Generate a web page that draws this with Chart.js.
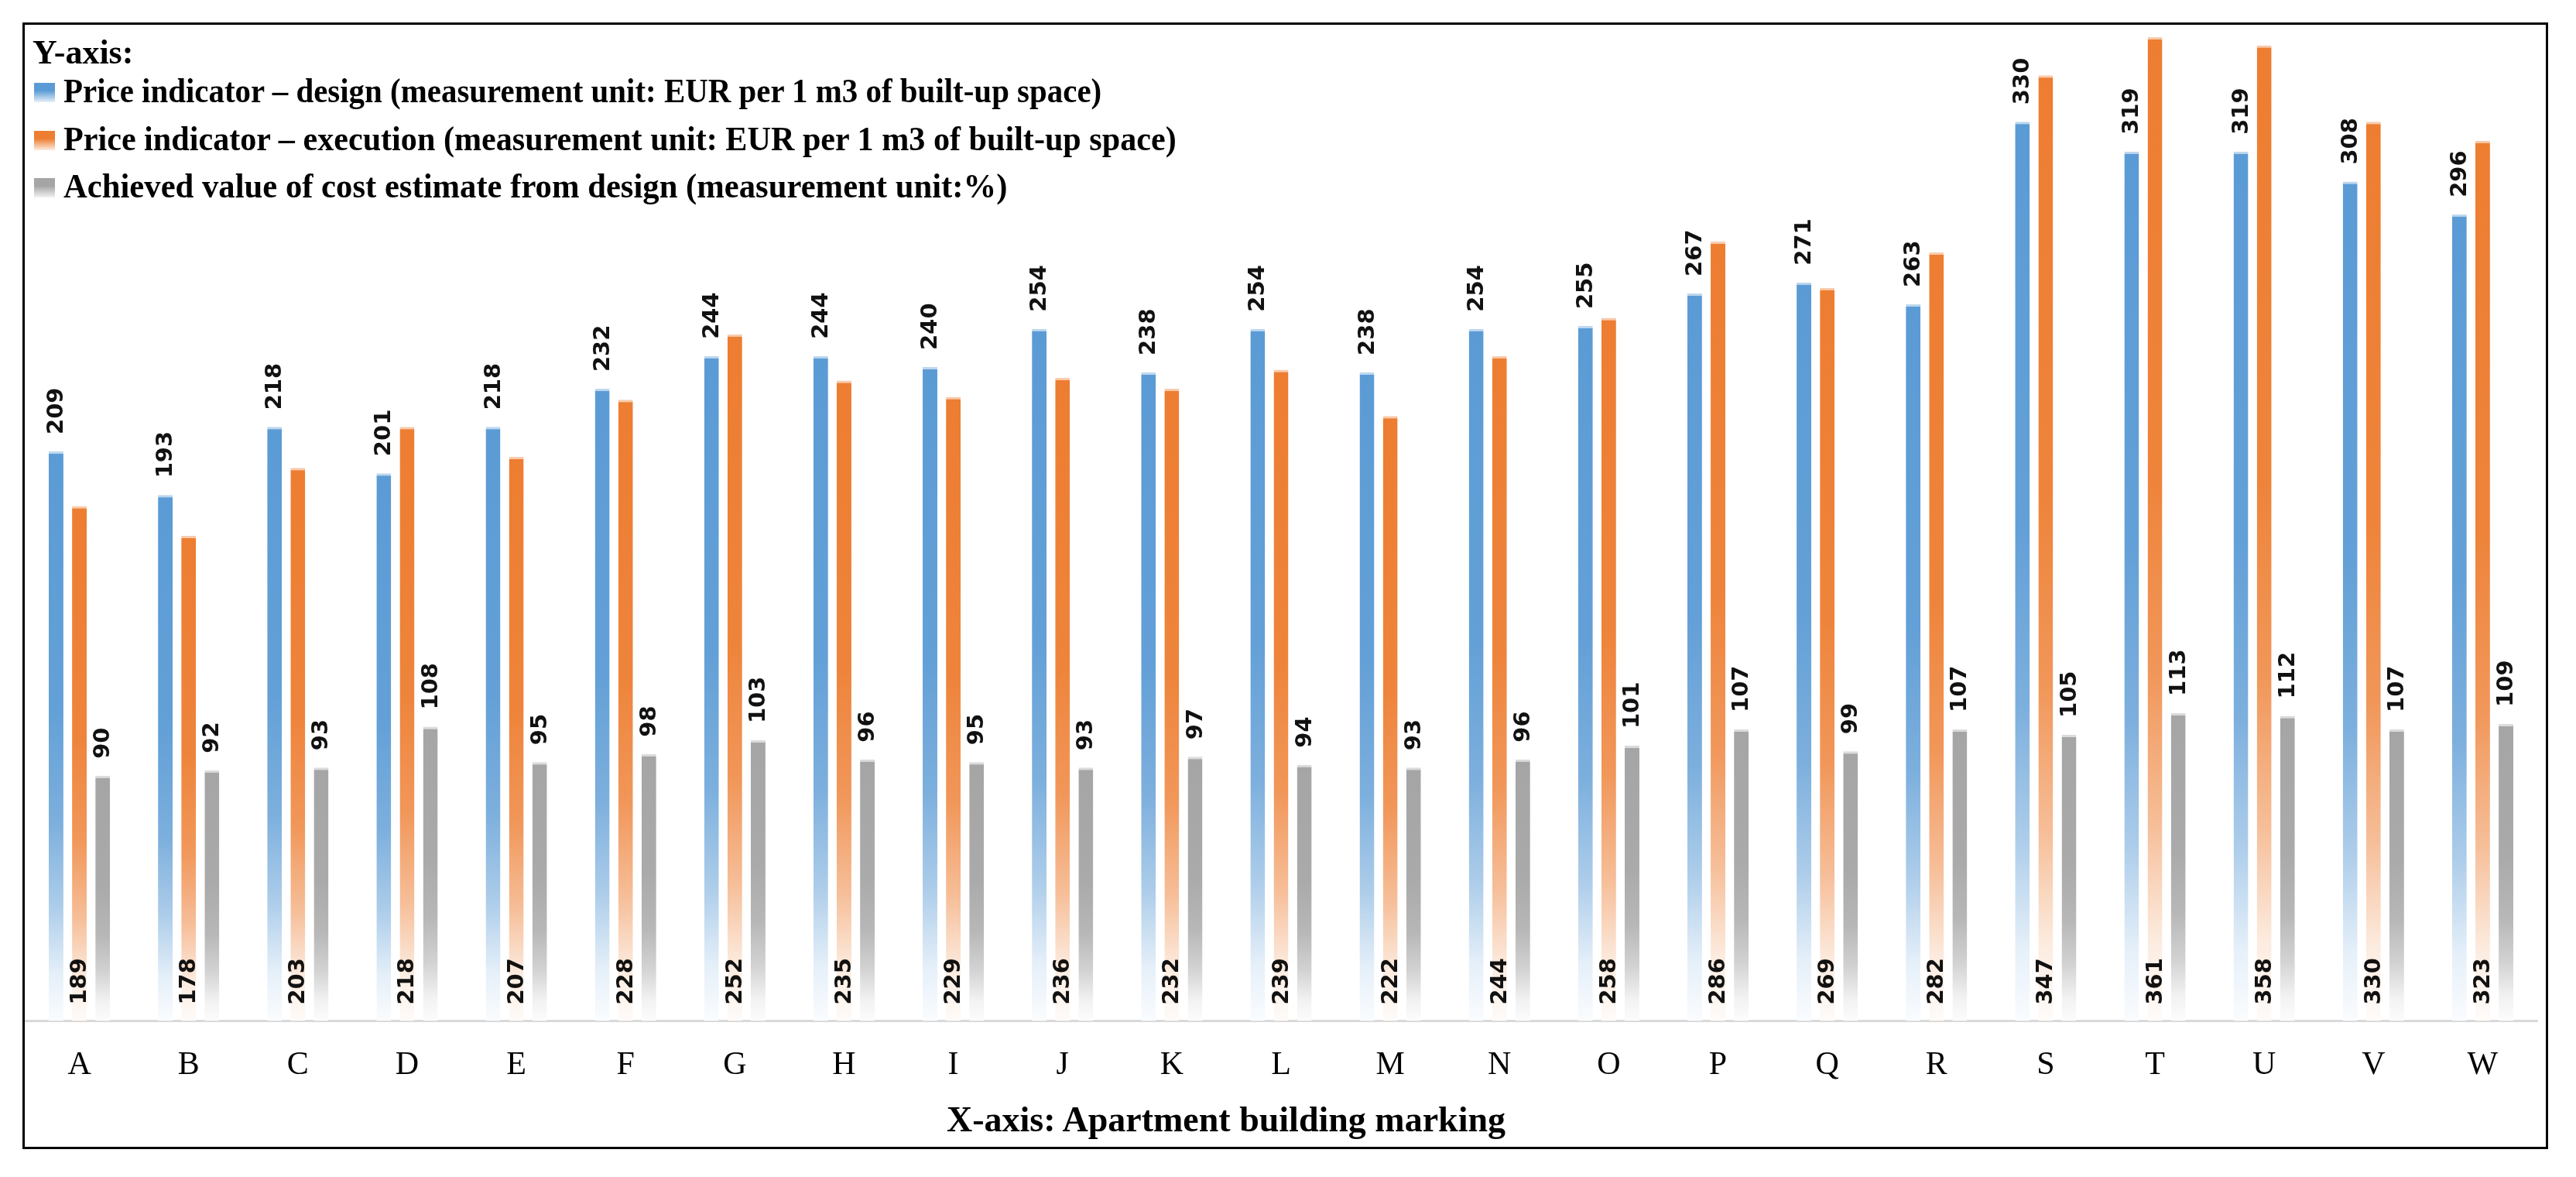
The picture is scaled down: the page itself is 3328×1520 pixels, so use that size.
<!DOCTYPE html>
<html>
<head>
<meta charset="utf-8">
<script src="https://cdn.jsdelivr.net/npm/chart.js@4.4.1/dist/chart.umd.min.js"></script>
<style>
  html, body { margin: 0; padding: 0; background: #fff; }
  #wrap { position: relative; width: 3328px; height: 1520px; }
  #frame { position: absolute; left: 29px; top: 29px; width: 3263px; height: 1455px; box-sizing: border-box; border: 3px solid #000; pointer-events: none; }
  .txt { position: absolute; font-family: "Liberation Serif", serif; font-weight: bold; font-size: 44px; line-height: 44px; color: #000; white-space: nowrap; }
  .leg { transform-origin: left center; }
  .key { position: absolute; width: 27px; height: 25px; }
</style>
</head>
<body>
<div id="wrap">
  <canvas id="myBarChart" width="3328" height="1520"></canvas>
  <div id="frame"></div>
  <div class="txt" style="left:42px; top:46px;">Y-axis:</div>
  <div class="key" id="key0" style="left:44px; top:107px;"></div>
  <div class="txt leg" id="lab0" style="left:82px; top:96px; transform:scaleX(0.93);"></div>
  <div class="key" id="key1" style="left:44px; top:169px;"></div>
  <div class="txt leg" id="lab1" style="left:82px; top:158px; transform:scaleX(0.958);"></div>
  <div class="key" id="key2" style="left:44px; top:230px;"></div>
  <div class="txt leg" id="lab2" style="left:82px; top:219px; transform:scaleX(0.97);"></div>
  <div class="txt" id="xTitle" style="left:1223px; top:1424px; font-size:46px;"></div>
</div>
<script>
const categories = ['A', 'B', 'C', 'D', 'E', 'F', 'G', 'H', 'I', 'J', 'K', 'L', 'M', 'N', 'O', 'P', 'Q', 'R', 'S', 'T', 'U', 'V', 'W']
const designPrice = [209, 193, 218, 201, 218, 232, 244, 244, 240, 254, 238, 254, 238, 254, 255, 267, 271, 263, 330, 319, 319, 308, 296]
const executionPrice = [189, 178, 203, 218, 207, 228, 252, 235, 229, 236, 232, 239, 222, 244, 258, 286, 269, 282, 347, 361, 358, 330, 323]
const achievedPercent = [90, 92, 93, 108, 95, 98, 103, 96, 95, 93, 97, 94, 93, 96, 101, 107, 99, 107, 105, 113, 112, 107, 109]
const seriesNames = [
    'Price indicator \u2013 design (measurement unit: EUR per 1 m3 of built-up space)',
    'Price indicator \u2013 execution (measurement unit: EUR per 1 m3 of built-up space)',
    'Achieved value of cost estimate from design (measurement unit:%)'
]
const seriesColors = ['#5B9BD5', '#ED7D31', '#A5A5A5']
const xAxisTitle = 'X-axis: Apartment building marking'

// how much white is mixed in along each bar, top (0) to base (1)
const fade = [[0, 0], [0.45, 0.05], [0.65, 0.2], [0.8, 0.5], [0.92, 0.85], [1, 0.97]]

function mix(hex, t) {
    const n = parseInt(hex.slice(1), 16)
    const r = Math.round(((n >> 16) & 255) * (1 - t) + 255 * t)
    const g = Math.round(((n >> 8) & 255) * (1 - t) + 255 * t)
    const b = Math.round((n & 255) * (1 - t) + 255 * t)
    return `rgb(${r}, ${g}, ${b})`
}

function barFill(color) {
    return function(c) {
        const chart = c.chart
        if (!chart.chartArea || c.type !== 'data') return color
        const y = chart.scales.y
        const top = y.getPixelForValue(c.raw)
        const bottom = y.getPixelForValue(0)
        if (!(bottom > top)) return color
        const grad = chart.ctx.createLinearGradient(0, top, 0, bottom)
        fade.forEach(([stop, t]) => grad.addColorStop(stop, mix(color, t)))
        return grad
    }
}

// legend + axis title as page text
seriesNames.forEach((name, i) => {
    document.getElementById('lab' + i).textContent = name
    document.getElementById('key' + i).style.background =
        `linear-gradient(${seriesColors[i]} 0%, ${seriesColors[i]} 40%, ${mix(seriesColors[i], 0.85)} 100%)`
})
document.getElementById('xTitle').textContent = xAxisTitle

// rotated value labels: design & % above bar, execution at the bottom of the bar
const valueLabels = {
    id: 'valueLabels',
    afterDatasetsDraw(chart) {
        const ctx = chart.ctx
        ctx.save()
        ctx.font = 'bold 29px "DejaVu Sans"'
        ctx.fillStyle = '#111'
        ctx.textAlign = 'left'
        ctx.textBaseline = 'middle'
        chart.data.datasets.forEach((dataset, i) => {
            const meta = chart.getDatasetMeta(i)
            meta.data.forEach((bar, j) => {
                const yPos = i === 1 ? bar.base - 21 : bar.y - 22
                ctx.save()
                ctx.translate(bar.x, yPos)
                ctx.rotate(-Math.PI / 2)
                ctx.fillText(String(dataset.data[j]), 0, 1)
                ctx.restore()
            })
        })
        ctx.restore()
    }
}

const seriesData = [designPrice, executionPrice, achievedPercent]

const ctx = document.getElementById('myBarChart').getContext('2d')
const myBarChart = new Chart(ctx, {
    type: 'bar',
    data: {
        labels: categories,
        datasets: seriesData.map((values, i) => ({
            label: seriesNames[i],
            data: values,
            backgroundColor: barFill(seriesColors[i]),
            borderColor: mix(seriesColors[i], 0.6),
            borderWidth: { top: 3, left: 0, right: 0, bottom: 0 },
            borderSkipped: 'start',
            categoryPercentage: 0.64,
            barPercentage: 0.63
        }))
    },
    options: {
        responsive: false,
        animation: false,
        devicePixelRatio: 1,
        layout: {
            padding: { top: 41, left: 32, right: 50, bottom: 87 }
        },
        plugins: {
            legend: { display: false },
            tooltip: { enabled: false }
        },
        scales: {
            x: {
                grid: { display: false, drawTicks: false },
                border: { display: true, color: '#d9d9d9', width: 3 },
                ticks: {
                    color: '#000',
                    padding: 32,
                    font: { family: '"Liberation Serif"', size: 42 }
                }
            },
            y: {
                display: false,
                min: 0,
                max: 363
            }
        }
    },
    plugins: [valueLabels]
})
</script>
</body>
</html>
